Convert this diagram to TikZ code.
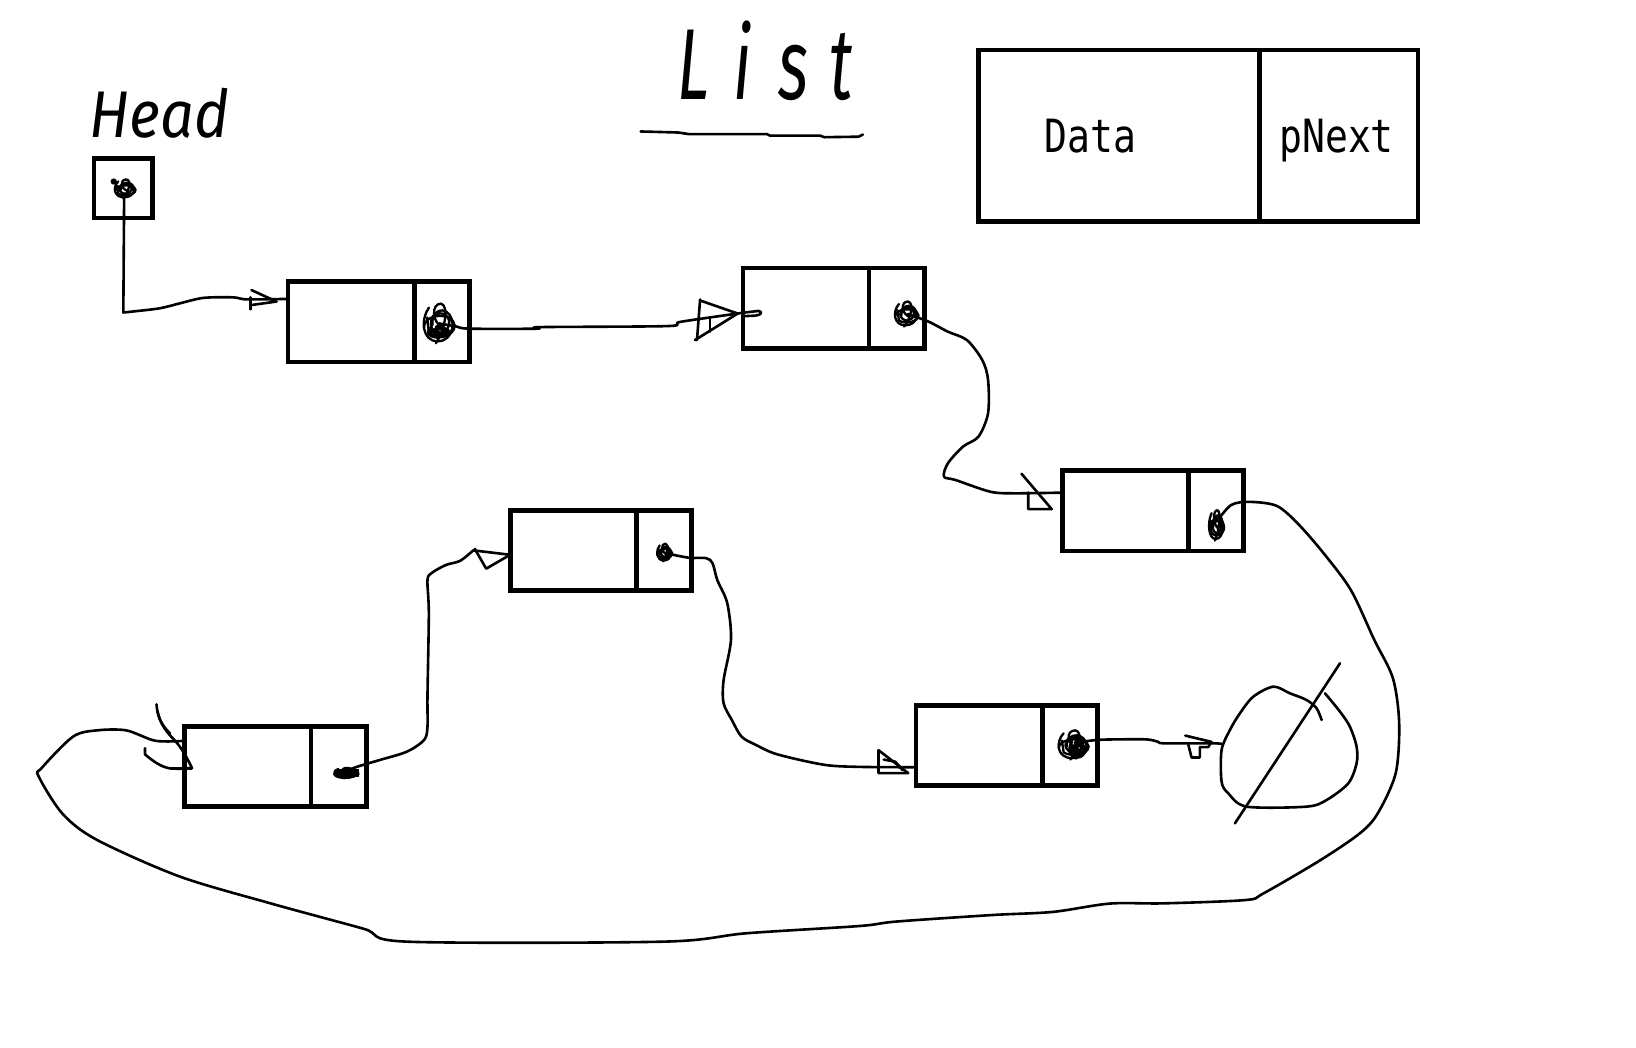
\documentclass[tikz,border=0pt]{standalone}
\usepackage{fontspec}
\newfontfamily\monofont{DejaVu Sans Mono}
\newfontfamily\handfont{Fira Sans Italic}
\begin{document}
\begin{tikzpicture}[x=0.02cm, y=-0.02cm,
  every node/.style={inner sep=0pt, outer sep=0pt},
  cell/.style={draw, line width=0.09cm, minimum height=1.54cm, anchor=west},
  datacell/.style={cell, minimum width=2.42cm},
  ptrcell/.style={cell, minimum width=1.06cm},
  conn/.style={line width=0.05cm, line cap=round, line join=round},
  tip/.style={conn},
  scrib/.pic={
    \draw[conn, line width=0.045cm] (-0.6,-0.8) .. controls (-1.1,-0.2) and (-1,0.9) .. (-0.1,0.9)
      .. controls (0.9,0.9) and (1,-0.3) .. (0.4,-0.6)
      .. controls (-0.2,-0.9) and (-0.8,0) .. (-0.3,0.4)
      .. controls (0.2,0.8) and (0.8,0.1) .. (0.5,-0.3)
      .. controls (0.2,-0.7) and (-0.5,-0.5) .. (-0.4,0.1);
    \draw[conn, line width=0.045cm] (-0.2,1) .. controls (0.3,0.4) and (0.6,-0.9) .. (0.1,-1)
      .. controls (-0.5,-1) and (-0.4,0) .. (0.2,0.2);
    \draw[conn, line width=0.045cm] (-0.9,0.2) .. controls (-0.9,-0.5) and (0.8,-0.6) .. (0.9,0.1)
      .. controls (0.9,0.7) and (-0.3,0.8) .. (-0.6,0.5) -- (-0.7,-0.3);
  }
]
\fill[white] (0,0) rectangle (1568,1004);
\useasboundingbox (0,0) rectangle (1568,1004);

% handwritten titles
\node[anchor=base west, xscale=0.9, font=\handfont\fontsize{36pt}{40pt}\selectfont] (headlabel) at (86,132) {Head};
\node[anchor=base west, xscale=0.65, font=\handfont\fontsize{55pt}{60pt}\selectfont] (title) at (649,95) {L\kern0.37em i\kern0.4em s\kern0.32em t};
\draw[conn] (614,126) -- (650,127) -- (660,128.5) -- (735,128.5) -- (738,130) -- (786,130) -- (790,131.5) -- (823,131) -- (827,129);

% legend of one list element
\node[cell, minimum height=3.28cm, minimum width=5.38cm, anchor=north west] (ld) at (938,48) {};
\node[cell, minimum height=3.28cm, minimum width=3.04cm] (lp) at (ld.east) {};
\node[anchor=base, xscale=0.83, font=\monofont\fontsize{25pt}{30pt}\selectfont] (ldtext) at (1045,146) {Data};
\node[anchor=base, xscale=0.83, font=\monofont\fontsize{25pt}{30pt}\selectfont] (lptext) at (1281,146) {pNext};

% head pointer
\node[draw, line width=0.09cm, minimum width=1.12cm, minimum height=1.14cm] (head) at (118,180.5) {};

% list elements
\node[datacell, anchor=north west] (n1d) at (276,270) {};
\node[ptrcell] (n1p) at (n1d.east) {};
\node[datacell, anchor=north west] (n2d) at (712,257) {};
\node[ptrcell] (n2p) at (n2d.east) {};
\node[datacell, anchor=north west] (n3d) at (1018,451) {};
\node[ptrcell] (n3p) at (n3d.east) {};
\node[datacell, anchor=north west] (n4d) at (177,696) {};
\node[ptrcell] (n4p) at (n4d.east) {};
\node[datacell, anchor=north west] (n5d) at (489,489) {};
\node[ptrcell] (n5p) at (n5d.east) {};
\node[datacell, anchor=north west] (n6d) at (878,676) {};
\node[ptrcell] (n6p) at (n6d.east) {};

% pointer scribbles
\coordinate (s0) at (119,186);
\coordinate (s1) at (421,310);
\coordinate (s2) at (870,301);
\coordinate (s3) at (1166,500);
\coordinate (s4) at (328,740);
\coordinate (s5) at (637,530);
\coordinate (s6) at (1030,712);
\coordinate (nullin) at (1171,713);

\pic[xscale=11, yscale=9] at (120,181) {scrib};
\fill (109,174) circle (3);
\pic[xscale=16.5, yscale=19] at (421,310) {scrib};
\pic[xscale=12, yscale=6] at (421,318) {scrib};
\pic[xscale=12.5, yscale=12] at (869,301) {scrib};
\pic[xscale=8, yscale=14.5] at (1166,503.5) {scrib};
\fill (321,737) rectangle (344,745);
\pic[xscale=13, yscale=5] at (332,741) {scrib};
\pic[xscale=8, yscale=8.5] at (637,529.5) {scrib};
\pic[xscale=16, yscale=14] at (1029,714) {scrib};
\pic[xscale=9, yscale=9] at (1033,718) {scrib};

% Head -> 1
\draw[conn] (s0) -- (118.2,299.5) -- plot[smooth, tension=0.5] coordinates {(118.2,299.5) (126,298.7) (153,295.5) (172.5,290.7) (195,285.5) (223.6,285) (236.4,286.9) (n1d.160)};
\draw[tip] (241,278) -- (265,289) -- (240,292.5);
\draw[tip] (240,285) -- (240,296.5);

% 1 -> 2
\draw[conn] plot[smooth, tension=0.5] coordinates {(s1) (437.7,313) (450,315) (515,315) (518,313.5) (640,312.5) (652,308.5) (707,300.5)} -- (n2d.184) -- (727,298) .. controls (731,298.5) and (730,302) .. (724,302.5) -- (714,303);
\draw[tip] (671,288) -- (707,300.5) -- (666,326);
\draw[tip] (671,287) -- (668,326);
\draw[tip] (680.5,304) -- (680.5,318);

% 2 -> 3
\draw[conn] plot[smooth, tension=0.5] coordinates {(s2) (890,308.3) (908.5,317.9) (926.8,326) (941.4,345) (947,364) (947,396) (937.8,418.5) (923,428) (908.5,444) (904.7,456.8) (915.7,460) (948.8,471.2) (970.9,472.8) (n3d.164)};
\draw[tip] (979,454) -- (1008,488) -- (985.5,488) -- (985.5,472);

% 3 -> 4 (long loop)
\draw[conn] plot[smooth, tension=0.5] coordinates {(s3) (1180,484) (1198,481) (1224,485) (1245,503) (1270,532) (1295,566) (1317,613) (1335,650) (1341,693) (1337.7,741) (1320.5,779.5) (1303.4,798.6) (1265.8,824.2) (1211,856.2) (1193.9,862.6) (1115.2,865.8) (1063.8,866) (1009,874) (950.8,877) (858.4,883.3) (824,887.5) (715,894.5) (636,902.5) (390,902.5) (348,890) (260,866) (172,840) (93,805) (60,780) (37,744) (40,736) (70,706) (93,700) (121,700) (149,710) (n4d.158)};
\draw[tip] (150,675) .. controls (151,690) and (158,700) .. (166,708) .. controls (174,716) and (180,728) .. (184,736) -- (170,737);
\draw[tip] (151,682) .. controls (153,692) and (158,698) .. (163,703);
\draw[tip] (139,717) -- (139,723) .. controls (146,729) and (154,735) .. (163,736.5) -- (184,736.5);

% 4 -> 5
\draw[conn] plot[smooth, tension=0.5] coordinates {(s4) (345,734) (364,728.4) (390,720.4) (406.5,709.2) (409.7,696.5) (409.7,667.7) (411,588) (409.7,556) (414,549) (427.4,541.5) (441,537.5) (453.6,527.5)} -- (n5d.184);
\draw[tip] (n5d.184) -- (466,545) -- (455,526);

% 5 -> 6
\draw[conn] plot[smooth, tension=0.5] coordinates {(s5) (660,534.5) (677,535) (683,540) (687.5,556) (697,578) (700.6,613) (693.5,652) (693.5,674) (701.4,690) (710.7,706) (724.6,714) (745,723) (790,733) (824,735) (n6d.199)};
\draw[tip] (842,741) -- (842,719) -- (870.5,741) -- cycle;
\draw[tip] (847,728) -- (858,730) -- (865,738);

% 6 -> null
\draw[conn] plot[smooth, tension=0.4] coordinates {(s6) (1054,709) (1098,708.6) (1110,711) (1115,712.4) (1163,712.4) (nullin)};
\draw[tip] (1136,705) -- (1161,711) -- (1158,716) -- (1150,716) -- (1150,726) -- (1142,726) -- (1139,714);

% null mark
\draw[conn] plot[smooth, tension=0.5] coordinates {(1269.9,664.5) (1284.3,682.1) (1293.8,696.5) (1300.2,715.6) (1300.2,731.6) (1292.3,750.7) (1271.5,766.7) (1252.3,773.1) (1194.8,773.1) (1177.2,760.3) (1170.8,749.2) (1170.8,718.8) (1178.8,699.6) (1188.4,683.6) (1201.2,667.7) (1220.4,658.1) (1236.3,664.5) (1252.3,670.9) (1261.9,678.9) (1266.7,690.1)};
\draw[conn] (1284.3,635.7) -- (1183.6,789.1);
\end{tikzpicture}
\end{document}
